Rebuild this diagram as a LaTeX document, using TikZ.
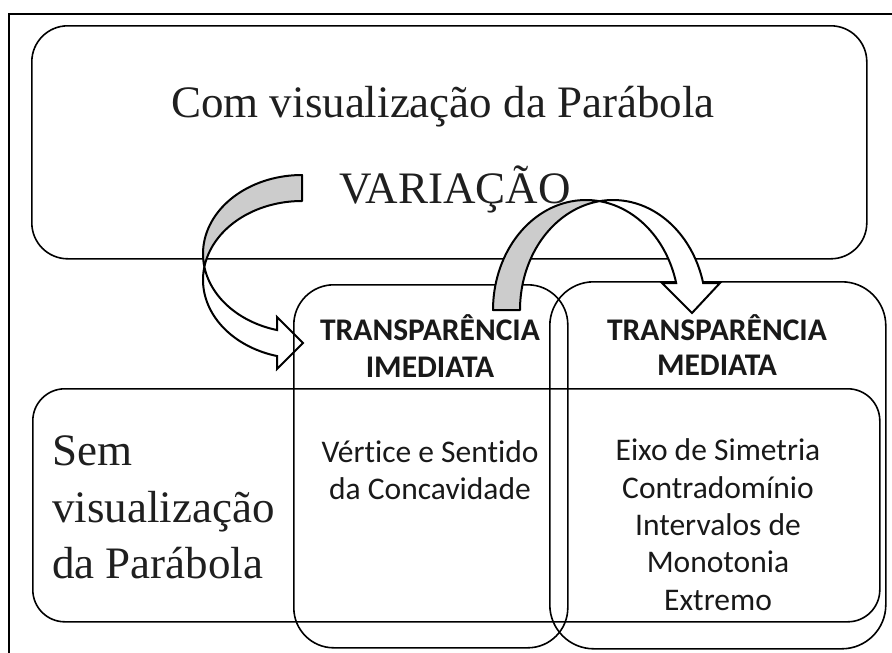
\documentclass[tikz,border=0pt]{standalone}
\usepackage{fontspec}
\setmainfont{Liberation Serif}
\newfontfamily\calibrifont[Ligatures={NoCommon,NoContextual}]{Carlito}
\begin{document}
\begin{tikzpicture}[x=1pt,y=-1pt,
  box/.style={draw=black, line width=1.6pt, rectangle, inner sep=0pt, anchor=north west},
  serifbig/.style={inner sep=0pt, text=black!88, font=\fontsize{45}{50}\selectfont},
  headtxt/.style={inner sep=0pt, anchor=base, text=black!90, font=\calibrifont\bfseries\fontsize{31.5}{36}\selectfont},
  bodytxt/.style={inner sep=0pt, anchor=base, text=black!90, font=\calibrifont\fontsize{31.5}{36}\selectfont},
  backband/.style={draw=black, line width=2pt, fill=black!20, line join=round},
  frontband/.style={draw=black, line width=2pt, fill=white, line join=miter}]
\useasboundingbox (0,0) rectangle (892,653);
\begin{scope}
\clip (0,0) rectangle (892,653);
\draw[line width=1.6pt] (9,14) rectangle (910,680);
\end{scope}
% boxes
\node[box, rounded corners=36pt, minimum width=835pt, minimum height=233pt] (topbox) at (31,25) {};
\node[box, rounded corners=32pt, minimum width=847pt, minimum height=233pt] (sembox) at (32,388) {};
% left curved arrow
\path[backband] plot[domain=270:170.5, samples=40, variable=\t] ({302+99*cos(\t)}, {253.8+78.8*sin(\t)})
  -- plot[domain=189.5:270, samples=40, variable=\t] ({302+99*cos(\t)}, {279.8+78.8*sin(\t)}) -- cycle;
\coordinate (la1) at (277,317);
\coordinate (latip) at (303,343);
\coordinate (la2) at (277,369);
\path[frontband] plot[domain=170.5:104.6, samples=40, variable=\t] ({302+99*cos(\t)}, {253.8+78.8*sin(\t)})
  -- (la1) -- (latip) -- (la2)
  -- plot[domain=104.6:189.5, samples=40, variable=\t] ({302+99*cos(\t)}, {279.8+78.8*sin(\t)}) -- cycle;
% transparency boxes
\node[box, rounded corners=40pt, minimum width=274pt, minimum height=363pt] (imed) at (293,284) {};
\node[box, rounded corners=44pt, minimum width=336pt, minimum height=367pt] (med) at (549,281) {};
% middle curved arrow
\path[backband] plot[domain=180:278.35, samples=40, variable=\t] ({586+93*cos(\t)}, {310+110*sin(\t)})
  -- plot[domain=261.65:180, samples=40, variable=\t] ({613+93*cos(\t)}, {310+110*sin(\t)}) -- cycle;
\coordinate (ma1) at (720,283);
\coordinate (matip) at (692,313);
\coordinate (ma2) at (662,283);
\path[frontband] plot[domain=261.65:345.8, samples=40, variable=\t] ({613+93*cos(\t)}, {310+110*sin(\t)})
  -- (ma1) -- (matip) -- (ma2)
  -- plot[domain=345.8:278.35, samples=40, variable=\t] ({586+93*cos(\t)}, {310+110*sin(\t)}) -- cycle;
% texts
\node[serifbig, anchor=base] (t1) at (443,117) {Com visualização da Parábola};
\node[serifbig, anchor=base] (t2) at (455,203) {VARIAÇÃO};
\node[serifbig, anchor=base west] (s1) at (52,465) {Sem};
\node[serifbig, anchor=base west] (s2) at (52,522) {visualização};
\node[serifbig, anchor=base west] (s3) at (52,578) {da Parábola};
\node[headtxt] (h1) at (430,340) {TRANSPARÊNCIA};
\node[headtxt] (h2) at (430,377) {IMEDIATA};
\node[bodytxt] (b1) at (430,462) {Vértice e Sentido};
\node[bodytxt] (b2) at (430,499) {da Concavidade};
\node[headtxt] (h3) at (717,340) {TRANSPARÊNCIA};
\node[headtxt] (h4) at (717,375) {MEDIATA};
\node[bodytxt] (m1) at (718,460) {Eixo de Simetria};
\node[bodytxt] (m2) at (718,498) {Contradomínio};
\node[bodytxt] (m3) at (718,535) {Intervalos de};
\node[bodytxt] (m4) at (718,572) {Monotonia};
\node[bodytxt] (m5) at (718,610) {Extremo};
\end{tikzpicture}
\end{document}
